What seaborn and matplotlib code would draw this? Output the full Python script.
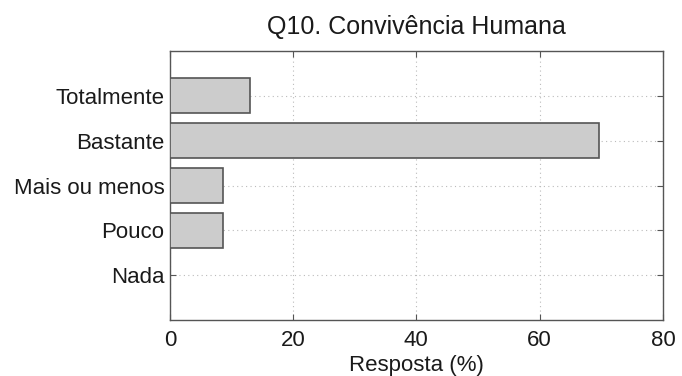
import matplotlib
matplotlib.use("Agg")
import matplotlib.pyplot as plt
import seaborn as sns
import pandas as pd

categories = ["Totalmente", "Bastante", "Mais ou menos", "Pouco", "Nada"]
values = [13.04, 69.57, 8.70, 8.70, 0.0]
xticks = [0, 20, 40, 60, 80]

sns.set_theme(style="white")
plt.rcParams["font.family"] = ["Liberation Sans", "DejaVu Sans"]

df = pd.DataFrame({"categoria": categories, "resposta": values})

fig = plt.figure(figsize=(6.82, 3.76), dpi=100)
ax = fig.add_axes([0.249, 0.149, 0.723, 0.715])

sns.barplot(data=df, x="resposta", y="categoria", order=categories,
            color="#cccccc", saturation=1, width=0.78,
            edgecolor="#555555", linewidth=1.2, ax=ax, zorder=3)

ax.set_xlim(0, 80)
ax.set_ylim(len(categories), -1)
ax.set_xticks(xticks)
ax.set_xticklabels([str(t) for t in xticks])
ax.grid(True, axis="both", linestyle=(0, (1, 3)), color="#bbbbbb", linewidth=0.8, zorder=0)
ax.set_axisbelow(True)

for s in ax.spines.values():
    s.set_color("#555555")
    s.set_linewidth(1.0)
    s.set_visible(True)

ax.tick_params(axis="both", direction="in", length=4, width=0.8, color="#555555",
               top=True, right=True, bottom=True, left=True,
               labelsize=16, labelcolor="#1a1a1a")
ax.tick_params(axis="y", pad=4)
ax.tick_params(axis="x", pad=7)

ax.set_xlabel("Resposta (%)", fontsize=16, color="#1a1a1a", labelpad=3)
ax.set_ylabel("")
ax.set_title("Q10. Convivência Humana", fontsize=18, color="#1a1a1a", pad=12)

fig.savefig("out.png", dpi=100, facecolor="white")
